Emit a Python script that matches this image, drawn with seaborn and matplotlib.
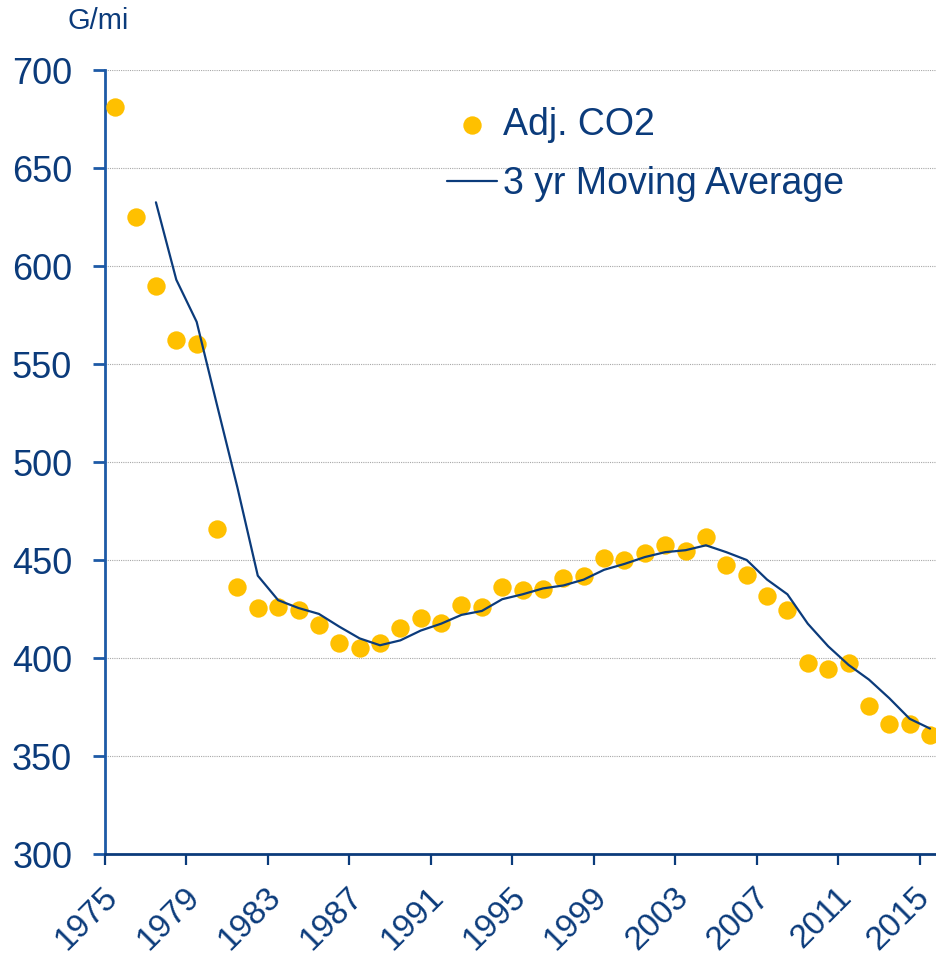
import numpy as np
import pandas as pd
import matplotlib
matplotlib.use("Agg")
import matplotlib.pyplot as plt
import matplotlib.transforms as mtransforms
import seaborn as sns

# ---- data ----
years = list(range(1975, 2016))
adj_co2 = [681, 625, 590, 562, 560, 466, 436, 425.5, 426, 424.5,
           417, 407.5, 405, 407.5, 415.5, 420.5, 418, 427, 426, 436,
           434.5, 435, 441, 442, 451, 450, 453.5, 457.5, 454.5, 461.5,
           447.5, 442.5, 431.5, 424.5, 397.5, 394.5, 397.5, 375.5, 366.5, 366.5,
           360.5]
ma_years = list(range(1977, 2016))
ma_3yr = [632.5, 593, 571.5, 529, 487, 442, 429.5, 425.5, 422.5, 416,
          410, 406.5, 409, 414, 417.5, 422, 424, 430, 432.5, 435.5,
          437, 440, 445, 448, 451.5, 454, 455, 457.5, 454, 450,
          440, 432.5, 417.5, 406, 396.5, 389, 379.5, 369, 364]
tick_years = list(range(1975, 2016, 4))
y_ticks = [300, 350, 400, 450, 500, 550, 600, 650, 700]

navy = "#0b3b7b"
spine_blue = "#1d5aa6"
gold = "#FFC000"

sns.set_theme(style="white")
plt.rcParams["font.family"] = ["Liberation Sans", "DejaVu Sans"]

fig = plt.figure(figsize=(9.37, 9.59), dpi=100)
W, H = 937, 959
ax = fig.add_axes([105 / W, 1 - 854 / H, (940.2 - 105) / W, (854 - 70) / H])

df = pd.DataFrame({"year": years, "co2": adj_co2})
dma = pd.DataFrame({"year": ma_years, "ma": ma_3yr})

ax.set_axisbelow(True)
for v in y_ticks[1:]:
    ax.axhline(v, color="#a8a8a8", lw=0.8, ls=(0, (1, 1)), zorder=0)

sns.scatterplot(data=df, x="year", y="co2", ax=ax, color=gold, s=175,
                linewidth=0, label="Adj. CO2", zorder=3)
sns.lineplot(data=dma, x="year", y="ma", ax=ax, color=navy, lw=1.6,
             label="3 yr Moving Average", zorder=4)

ax.set_xlim(1974.5, 2015.5)
ax.set_ylim(300, 700)
ax.set_xlabel("")
ax.set_ylabel("")

for s in ["top", "right"]:
    ax.spines[s].set_visible(False)
ax.spines["left"].set_color(spine_blue)
ax.spines["left"].set_linewidth(2.0)
ax.spines["bottom"].set_color(navy)
ax.spines["bottom"].set_linewidth(2.0)
ax.spines["bottom"].set_zorder(5)

ax.set_yticks(y_ticks)
ax.set_yticklabels([str(v) for v in y_ticks])
ax.tick_params(axis="y", which="major", direction="out", length=8.6, width=2.0,
               color=spine_blue, labelsize=26, labelcolor=navy, pad=15, left=True)

ax.set_xticks(tick_years)
ax.set_xticks([y - 0.5 for y in tick_years], minor=True)
ax.set_xticklabels([str(y) for y in tick_years], rotation=45, ha="right", va="top")
ax.tick_params(axis="x", which="major", length=0, labelsize=24, labelcolor=navy, pad=20)
ax.tick_params(axis="x", which="minor", direction="out", length=8, width=1.6,
               color=navy, bottom=True)
labels = ax.get_xticklabels()
for i, lab in enumerate(labels):
    dx = 9 if i < len(labels) - 1 else 6
    offset = mtransforms.ScaledTranslation(dx / 100, 0, fig.dpi_scale_trans)
    lab.set_transform(lab.get_transform() + offset)

leg = ax.legend(loc="upper left", bbox_to_anchor=(447 / W, 1 - 107 / H),
                bbox_transform=fig.transFigure, frameon=False, fontsize=27,
                handlelength=1.33, handletextpad=0.16, labelspacing=0.62,
                borderpad=0, borderaxespad=0)
for t in leg.get_texts():
    t.set_color(navy)

fig.text(98 / W, 1 - 21 / H, "G/mi", ha="center", va="center", fontsize=21, color=navy)

fig.savefig("out.png", dpi=100)
